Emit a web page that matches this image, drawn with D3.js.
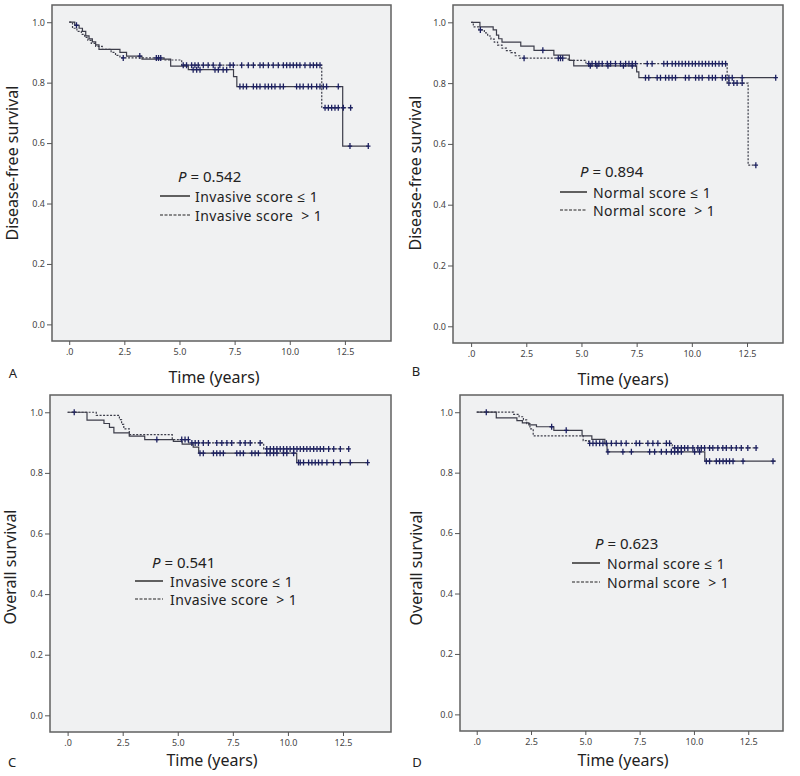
<!DOCTYPE html>
<html>
<head>
<meta charset="utf-8">
<script src="https://cdn.jsdelivr.net/npm/d3@7"></script>
<style>
  body { margin: 0; background: #fff; }
  text { font-family: "Noto Sans", "Open Sans", sans-serif; fill: #222; }
  .tick text { font-size: 9px; fill: #444; }
  .leg { white-space: pre; }
</style>
</head>
<body>
<svg id="chart" width="800" height="776"></svg>
<script>
// ---- data (years, survival) ----
var xTicks = [0, 2.5, 5, 7.5, 10, 12.5]
var xTickLabels = [".0", "2.5", "5.0", "7.5", "10.0", "12.5"]
var yTicks = [0, 0.2, 0.4, 0.6, 0.8, 1.0]
var yTickLabels = ["0.0", "0.2", "0.4", "0.6", "0.8", "1.0"]

// A: disease-free, invasive score
var aSolidTimes = [0.25,0.45,0.6,0.75,0.9,1.05,1.2,1.35,2.3,2.6,3.3,4.6,5.4,7.45,7.6,12.4]
var aSolidSurv  = [0.99,0.98,0.97,0.955,0.945,0.935,0.925,0.91,0.9,0.888,0.878,0.855,0.843,0.82,0.787,0.59]
var aSolidEnd = 13.56
var aSolidCensor = [0.33,3.2,5.62,5.78,5.93,6.61,6.76,6.98,7.14,7.74,7.89,8.04,8.35,8.5,8.65,8.88,9.03,9.18,9.33,9.56,9.71,10.31,10.46,10.61,10.84,10.99,11.22,11.37,11.52,11.67,12.2,12.73,13.56]
var aDashTimes = [0.15,0.35,0.55,0.7,0.85,1.0,1.2,1.5,1.9,2.1,2.3,4.3,5.1,11.45]
var aDashSurv  = [0.98,0.97,0.96,0.95,0.94,0.93,0.92,0.91,0.9,0.89,0.882,0.875,0.858,0.717]
var aDashEnd = 12.76
var aDashCensor = [2.45,3.95,4.05,4.15,5.17,5.32,5.55,5.7,5.85,6.08,6.3,6.53,6.83,7.29,7.44,7.82,8.12,8.35,8.65,8.8,9.03,9.25,9.48,9.71,9.86,10.01,10.16,10.31,10.46,10.69,10.92,11.07,11.22,11.37,11.6,11.75,11.9,12.05,12.2,12.43,12.76]

// B: disease-free, normal score
var bSolidTimes = [0.4,1.0,1.15,1.25,1.4,2.25,2.85,3.75,4.45,4.65,7.5,7.6]
var bSolidSurv  = [0.985,0.975,0.958,0.946,0.935,0.922,0.908,0.892,0.875,0.857,0.837,0.818]
var bSolidEnd = 13.8
var bSolidCensor = [3.25,5.4,5.7,6.2,6.9,7.3,7.9,8.05,8.43,8.58,8.81,8.96,9.11,9.26,9.71,9.87,10.17,10.32,10.47,10.77,10.93,11.07,11.38,11.53,11.68,11.83,12.28,13.8]
var bDashTimes = [0.1,0.35,0.6,0.75,0.9,1.05,1.2,1.4,1.6,1.8,2.0,2.2,4.4,5.2,11.6,12.55]
var bDashSurv  = [0.985,0.975,0.965,0.955,0.945,0.935,0.925,0.915,0.907,0.9,0.89,0.882,0.875,0.864,0.8,0.53]
var bDashEnd = 12.9
var bDashCensor = [0.42,2.4,3.95,4.05,4.15,5.33,5.48,5.64,5.79,5.94,6.17,6.32,6.54,6.77,7.0,7.15,7.3,7.45,7.98,8.2,8.73,8.89,9.11,9.26,9.41,9.56,9.71,9.86,10.02,10.16,10.32,10.47,10.62,10.77,10.93,11.07,11.23,11.38,11.53,11.68,11.9,12.05,12.28,12.9]

// C: overall, invasive score
var cSolidTimes = [0.88,1.65,1.9,2.1,2.8,3.5,4.8,5.2,5.7,5.95,10.4]
var cSolidSurv  = [0.974,0.963,0.95,0.932,0.921,0.91,0.904,0.895,0.885,0.865,0.834]
var cSolidEnd = 13.62
var cSolidCensor = [0.3,4.05,6.01,6.16,6.62,6.77,6.92,7.07,7.68,7.83,7.98,8.36,8.51,8.66,9.04,9.19,9.35,9.5,9.8,9.95,10.26,10.48,10.56,10.71,10.94,11.09,11.24,11.39,11.55,11.77,12.07,12.38,12.83,13.62]
var cDashTimes = [1.3,2.35,2.45,2.55,2.8,4.75,5.5,8.9]
var cDashSurv  = [0.99,0.976,0.96,0.945,0.926,0.91,0.899,0.879]
var cDashEnd = 12.8
var cDashCensor = [5.18,5.33,5.48,5.64,5.79,5.94,6.16,6.39,6.77,7.0,7.23,7.45,7.83,8.06,8.29,8.74,9.04,9.2,9.35,9.5,9.65,9.8,9.95,10.1,10.26,10.41,10.56,10.71,10.86,11.01,11.17,11.32,11.47,11.62,11.85,12.08,12.38,12.76]

// D: overall, normal score
var dSolidTimes = [0.9,1.85,2.1,2.4,2.75,3.55,4.85,5.3,5.9,6.0,10.5]
var dSolidSurv  = [0.981,0.972,0.965,0.958,0.952,0.94,0.922,0.91,0.895,0.869,0.838]
var dSolidEnd = 13.77
var dSolidCensor = [0.44,3.45,4.12,6.04,6.73,7.12,7.96,8.19,8.5,8.73,8.96,9.11,9.26,9.42,10.03,10.26,10.57,10.72,11.03,11.18,11.34,11.49,11.64,11.8,12.26,13.64]
var dDashTimes = [1.7,1.95,2.15,2.3,2.45,2.6,4.9,5.15,9.0]
var dDashSurv  = [0.993,0.985,0.975,0.962,0.945,0.922,0.906,0.897,0.882]
var dDashEnd = 12.9
var dDashCensor = [5.2,5.35,5.5,5.66,5.81,5.97,6.2,6.42,6.65,6.88,7.34,7.5,7.88,8.11,8.34,8.73,8.88,9.11,9.26,9.42,9.57,9.72,9.95,10.18,10.34,10.49,10.72,10.87,11.1,11.33,11.49,11.72,11.95,12.18,12.48,12.86]

var pValues = ["0.542", "0.894", "0.541", "0.623"]
var groupNames = ["Invasive score", "Normal score", "Invasive score", "Normal score"]
var yTitles = ["Disease-free survival", "Disease-free survival", "Overall survival", "Overall survival"]
var letters = ["A", "B", "C", "D"]

// ---- layout per panel ----
var panels = [
    {frame:[52,5,391,341], xDom:[-0.78,14.59], yTitle:[12,163], tTitle:[214,377], letter:[13,373], leg:[178,176,160,190,195,196,215],
     solid:[aSolidTimes,aSolidSurv,aSolidEnd,aSolidCensor], dash:[aDashTimes,aDashSurv,aDashEnd,aDashCensor]},
    {frame:[453,5,783,343], xDom:[-0.82,14.13], yTitle:[415,173], tTitle:[623,379], letter:[416,371], leg:[580,171,560,587,593,192,210],
     solid:[bSolidTimes,bSolidSurv,bSolidEnd,bSolidCensor], dash:[bDashTimes,bDashSurv,bDashEnd,bDashCensor]},
    {frame:[50,395,391,732], xDom:[-0.8,14.68], yTitle:[10,567], tTitle:[212,760], letter:[12,762], leg:[152,562,135,163,170,581,599],
     solid:[cSolidTimes,cSolidSurv,cSolidEnd,cSolidCensor], dash:[cDashTimes,cDashSurv,cDashEnd,cDashCensor]},
    {frame:[460,395,783,731], xDom:[-0.77,14.1], yTitle:[416,568], tTitle:[623,760], letter:[417,762], leg:[595,543,572,600,607,563,582],
     solid:[dSolidTimes,dSolidSurv,dSolidEnd,dSolidCensor], dash:[dDashTimes,dDashSurv,dDashEnd,dDashCensor]}
]
var yDom = [-0.055, 1.057]

var svg = d3.select("#chart")

var stepPoints = function(times, surv, end)
{
    var pts = [[0, 1]]
    times.forEach(function(t, i) { pts.push([t, surv[i]]) })
    pts.push([end, surv[surv.length - 1]])
    return pts
}

var survAt = function(times, surv, t)
{
    var s = 1
    times.forEach(function(tt, i) { if (tt <= t) { s = surv[i] } })
    return s
}

var drawPanel = function(p, k)
{
    var left = p.frame[0], top = p.frame[1], right = p.frame[2], bottom = p.frame[3]
    var xScale = d3.scaleLinear().domain(p.xDom).range([left, right])
    var yScale = d3.scaleLinear().domain(yDom).range([bottom, top])

    var g = svg.append("g").classed("panel", true)

    g.append("rect")
        .attr("x", left).attr("y", top)
        .attr("width", right - left).attr("height", bottom - top)
        .attr("fill", "#f0f1f2")
        .attr("stroke", "#606060")
        .attr("stroke-width", 1.5)

    var xAxis = d3.axisBottom(xScale).tickValues(xTicks)
        .tickFormat(function(d, i) { return xTickLabels[i] }).tickSize(4).tickPadding(4)
    var yAxis = d3.axisLeft(yScale).tickValues(yTicks)
        .tickFormat(function(d, i) { return yTickLabels[i] }).tickSize(5).tickPadding(2)

    var xa = g.append("g").attr("transform", "translate(0," + bottom + ")").call(xAxis)
    var ya = g.append("g").attr("transform", "translate(" + left + ",0)").call(yAxis)
    xa.select(".domain").remove()
    ya.select(".domain").remove()
    g.selectAll(".tick line").attr("stroke", "#555")

    var line = d3.line()
        .x(function(d) { return xScale(d[0]) })
        .y(function(d) { return yScale(d[1]) })
        .curve(d3.curveStepAfter)

    var series = [
        {data: p.solid, dash: null},
        {data: p.dash, dash: "2,1.5"}
    ]
    series.forEach(function(s)
    {
        g.append("path")
            .datum(stepPoints(s.data[0], s.data[1], s.data[2]))
            .attr("d", line)
            .attr("fill", "none")
            .attr("stroke", "#3c3d4a")
            .attr("stroke-width", 1.2)
            .attr("stroke-dasharray", s.dash)

        g.selectAll(null)
            .data(s.data[3])
            .enter()
            .append("path")
            .attr("transform", function(t)
            {
                return "translate(" + xScale(t) + "," + yScale(survAt(s.data[0], s.data[1], t)) + ")"
            })
            .attr("d", "M0,-3V3M-2.2,0H2.2")
            .attr("stroke", "#1d2160")
            .attr("stroke-width", 1.3)
    })

    // legend
    var L = p.leg
    var leg = g.append("g")
    var pt = leg.append("text").attr("x", L[0]).attr("y", L[1]).attr("dominant-baseline", "central")
        .style("font-size", "15px")
    pt.append("tspan").text("P").style("font-style", "italic")
    pt.append("tspan").text(" = " + pValues[k])

    leg.append("line").attr("x1", L[2]).attr("x2", L[3]).attr("y1", L[5]).attr("y2", L[5])
        .attr("stroke", "#222").attr("stroke-width", 1.4)
    leg.append("line").attr("x1", L[2]).attr("x2", L[3]).attr("y1", L[6]).attr("y2", L[6])
        .attr("stroke", "#222").attr("stroke-width", 1.2).attr("stroke-dasharray", "3,1.5")
    leg.append("text").classed("leg", true).attr("x", L[4]).attr("y", L[5]).attr("dominant-baseline", "central")
        .style("font-size", "14px").style("letter-spacing", "0.4px").text(groupNames[k] + " \u2264 1")
    leg.append("text").classed("leg", true).attr("x", L[4]).attr("y", L[6]).attr("dominant-baseline", "central")
        .style("font-size", "14px").style("letter-spacing", "0.4px").text(groupNames[k] + "  > 1")

    // labels
    g.append("text")
        .attr("transform", "translate(" + p.yTitle[0] + "," + p.yTitle[1] + ") rotate(-90)")
        .attr("text-anchor", "middle").attr("dominant-baseline", "central")
        .style("font-size", "16px")
        .text(yTitles[k])
    g.append("text")
        .attr("x", p.tTitle[0]).attr("y", p.tTitle[1])
        .attr("text-anchor", "middle").attr("dominant-baseline", "central")
        .style("font-size", "16px")
        .text("Time (years)")
    g.append("text")
        .attr("x", p.letter[0]).attr("y", p.letter[1])
        .attr("text-anchor", "middle").attr("dominant-baseline", "central")
        .style("font-size", "13px")
        .text(letters[k])
}

panels.forEach(drawPanel)
</script>
</body>
</html>
